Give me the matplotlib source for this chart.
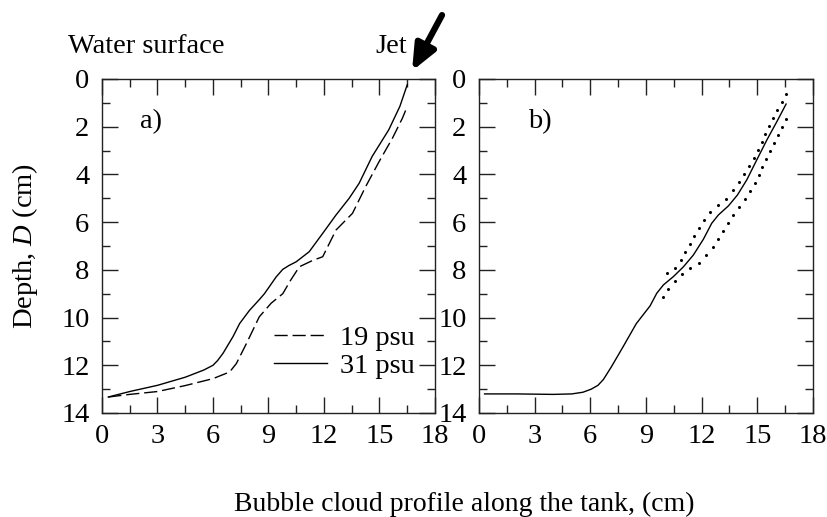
"""
Bubble cloud profiles along the tank: a) two salinities, b) 31 psu with spread
"""

import matplotlib
matplotlib.use('Agg')
import matplotlib.pyplot as plt
from matplotlib.ticker import MultipleLocator

plt.rcParams['font.family'] = ['Liberation Serif', 'DejaVu Serif']
plt.rcParams['mathtext.fontset'] = 'custom'
plt.rcParams['mathtext.rm'] = 'Liberation Serif'
plt.rcParams['mathtext.it'] = 'Liberation Serif:italic'

FS = 20.5

# panel a, 31 psu (solid)
a31_x = [0.34, 1.5, 3.0, 4.5, 5.5, 6.0, 6.25, 6.54, 7.08, 7.44, 7.97, 8.5, 8.78, 9.41,
         9.77, 10.1, 10.5, 11.2, 11.93, 12.65, 13.36, 13.9, 14.6, 15.5, 16.1, 16.5]
a31_y = [13.33, 13.1, 12.84, 12.5, 12.2, 12.0, 11.8, 11.5, 10.8, 10.25, 9.7, 9.25, 9.0, 8.3,
         7.98, 7.82, 7.66, 7.24, 6.47, 5.7, 5.0, 4.37, 3.25, 2.13, 1.15, 0.24]

# panel a, 19 psu (dashed)
a19_x = [0.34, 1.5, 3.0, 4.5, 6.0, 6.9, 7.26, 7.8, 8.5, 9.14, 9.77, 10.2, 10.67,
         11.4, 11.93, 12.65, 13.54, 14.26, 14.98, 15.7, 16.24, 16.5]
a19_y = [13.33, 13.22, 13.1, 12.85, 12.56, 12.28, 11.93, 11.1, 9.97, 9.4, 9.0, 8.43, 7.87,
         7.6, 7.45, 6.33, 5.63, 4.5, 3.46, 2.48, 1.64, 1.15]

# panel b, mean profile
b_x = [0.3, 2.0, 4.0, 5.0, 5.6, 6.05, 6.41, 6.7, 7.13, 7.76, 8.48, 9.22, 9.58, 9.94, 10.48,
       11.02, 11.55, 12.09, 12.54, 12.9, 13.44, 13.93, 14.43, 14.97, 15.51, 16.05, 16.55]
b_y = [13.2, 13.2, 13.22, 13.2, 13.13, 13.0, 12.84, 12.6, 12.07, 11.23, 10.25, 9.51, 8.98, 8.63, 8.28,
       7.87, 7.38, 6.72, 6.05, 5.7, 5.32, 4.86, 4.23, 3.39, 2.56, 1.79, 1.05]

# panel b, spread (dots)
up_x = [10.12, 10.57, 10.87, 11.12, 11.36, 11.59, 11.84, 12.11, 12.47, 12.88, 13.32, 13.69,
        14.03, 14.3, 14.57, 14.82, 15.02, 15.24, 15.44, 15.63, 15.85, 16.06, 16.32, 16.55]
up_y = [8.12, 7.91, 7.59, 7.24, 6.9, 6.57, 6.23, 5.9, 5.57, 5.29, 5.02, 4.67,
        4.33, 3.99, 3.66, 3.32, 2.99, 2.65, 2.32, 1.98, 1.65, 1.31, 0.98, 0.64]
lo_x = [9.94, 10.21, 10.57, 10.94, 11.39, 11.83, 12.24, 12.61, 12.88, 13.15, 13.41, 13.69,
        14.0, 14.32, 14.61, 14.86, 15.08, 15.27, 15.49, 15.69, 15.89, 16.1, 16.33, 16.55]
lo_y = [9.15, 8.81, 8.48, 8.17, 7.94, 7.7, 7.39, 7.05, 6.72, 6.38, 6.05, 5.71,
        5.38, 5.04, 4.71, 4.37, 4.04, 3.7, 3.37, 3.03, 2.7, 2.36, 2.02, 1.69]

fig = plt.figure(figsize=(8.28, 5.17), dpi=100)
ax_a = fig.add_axes([102 / 828, 1 - 413 / 517, 333 / 828, 334 / 517])
ax_b = fig.add_axes([479 / 828, 1 - 413 / 517, 334 / 828, 334 / 517])

for ax in (ax_a, ax_b):
    ax.set_xlim(0, 18)
    ax.set_ylim(14, 0)
    ax.xaxis.set_major_locator(MultipleLocator(3))
    ax.xaxis.set_minor_locator(MultipleLocator(1.5))
    ax.yaxis.set_major_locator(MultipleLocator(2))
    ax.yaxis.set_minor_locator(MultipleLocator(1))
    ax.tick_params(which='both', direction='in', top=True, right=True,
                   labelsize=FS, width=1.0, color='#222222')
    ax.tick_params(which='major', length=11.5)
    ax.tick_params(which='minor', length=6)
    ax.tick_params(axis='y', pad=9)
    ax.tick_params(axis='x', pad=8)
    for sp in ax.spines.values():
        sp.set_linewidth(1.0)
        sp.set_color('#222222')

ax_a.plot(a19_x, a19_y, color='black', lw=1.0, dashes=(9.5, 3.5), label='19 psu')
ax_a.plot(a31_x, a31_y, color='black', lw=1.0, label='31 psu')
ax_a.legend(frameon=False, fontsize=FS, loc='center left',
            bbox_to_anchor=(0.516, 0.183), borderpad=0, borderaxespad=0,
            handlelength=1.87, handletextpad=0.47, labelspacing=0.08)
ax_a.text(2.05, 1.8, 'a)', fontsize=FS, va='center', ha='left')

ax_b.plot(b_x, b_y, color='black', lw=1.0)
ax_b.plot(up_x, up_y, 'o', color='black', ms=2.2, mew=0)
ax_b.plot(lo_x, lo_y, 'o', color='black', ms=2.2, mew=0)
ax_b.text(2.64, 1.8, 'b)', fontsize=FS, va='center', ha='left')

# jet arrow
ax_a.annotate('', xy=(16.76, -0.34), xytext=(18.38, -2.68), xycoords='data',
              annotation_clip=False,
              arrowprops=dict(arrowstyle='-|>,head_length=0.7,head_width=0.3',
                              lw=4.5, color='black', mutation_scale=22,
                              shrinkA=0, shrinkB=0))

fig.text(68 / 828, 1 - 53 / 517, 'Water surface', fontsize=FS, ha='left', va='baseline')
fig.text(375 / 828, 1 - 53 / 517, 'Jet', fontsize=FS, ha='left', va='baseline')
fig.text(25 / 828, 1 - 246 / 517, 'Depth, $D$ (cm)', fontsize=FS, rotation=90,
         ha='center', va='center')
fig.text(464 / 828, 1 - 511 / 517, 'Bubble cloud profile along the tank, (cm)',
         fontsize=20, ha='center', va='baseline')

fig.savefig('out.png', dpi=100)
